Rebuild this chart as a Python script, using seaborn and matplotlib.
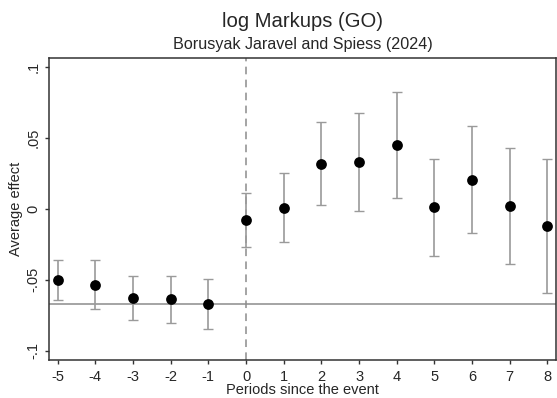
import matplotlib
matplotlib.use("Agg")
import matplotlib.pyplot as plt
import seaborn as sns
import numpy as np
import pandas as pd

periods = [-5, -4, -3, -2, -1, 0, 1, 2, 3, 4, 5, 6, 7, 8]
estimate = [-0.0503, -0.0538, -0.0629, -0.0638, -0.0673, -0.0077, 0.0005, 0.0316,
            0.0327, 0.0449, 0.0009, 0.0203, 0.0016, -0.0119]
ci_upper = [-0.036, -0.036, -0.047, -0.047, -0.0498, 0.0114, 0.025, 0.061,
            0.0675, 0.0823, 0.0349, 0.0582, 0.0426, 0.0353]
ci_lower = [-0.0643, -0.0708, -0.0783, -0.0806, -0.0846, -0.0271, -0.0236, 0.0026,
            -0.0014, 0.0072, -0.033, -0.017, -0.0388, -0.0591]
ref_line = -0.0673
yticks = [-0.1, -0.05, 0, 0.05, 0.1]
yticklabels = ["-.1", "-.05", "0", ".05", ".1"]

df = pd.DataFrame({"period": periods, "est": estimate, "lo": ci_lower, "hi": ci_upper})

sns.set_style("white")
plt.rcParams['font.family'] = ['Liberation Sans', 'DejaVu Sans']

fig = plt.figure(figsize=(5.57, 3.98), dpi=100)
ax = fig.add_axes([0.088, 0.095, 0.911, 0.759])

ax.axhline(ref_line, color="#8c8c8c", lw=1.1, zorder=1)
ax.axvline(0, color="#8c8c8c", lw=1.1, ls=(0, (5, 3.5)), zorder=1)

e = df["est"].to_numpy()
ax.errorbar(df["period"], e, yerr=[e - df["lo"].to_numpy(), df["hi"].to_numpy() - e],
            fmt="none", ecolor="#9a9a9a", elinewidth=1.2, capsize=3.5, capthick=1.0, zorder=2)
sns.scatterplot(data=df, x="period", y="est", ax=ax, color="black", s=60,
                edgecolor="black", linewidth=0, zorder=3, legend=False)

ax.set_xlim(-5.23, 8.24)
ax.set_ylim(-0.1066, 0.106)
ax.set_xticks(periods)
ax.set_xticklabels([str(p) for p in periods], fontsize=10.5)
ax.set_yticks(yticks)
ax.set_yticklabels(yticklabels, fontsize=10.5, rotation=90, va="center")
ax.tick_params(axis="both", which="major", bottom=True, left=True, direction="out",
               length=3, width=1, color="#333333", pad=3)
ax.tick_params(axis="x", pad=4)
for s in ax.spines.values():
    s.set_color("#333333")
    s.set_linewidth(1.1)

ax.set_xlabel("Periods since the event", fontsize=10.5, labelpad=-1)
ax.set_ylabel("Average effect", fontsize=10.5, labelpad=3)

fig.text(0.543, 0.945, "log Markups (GO)", ha="center", va="center", fontsize=14.6)
fig.text(0.543, 0.887, "Borusyak Jaravel and Spiess (2024)", ha="center", va="center", fontsize=11.6)

fig.savefig("out.png", dpi=100)
